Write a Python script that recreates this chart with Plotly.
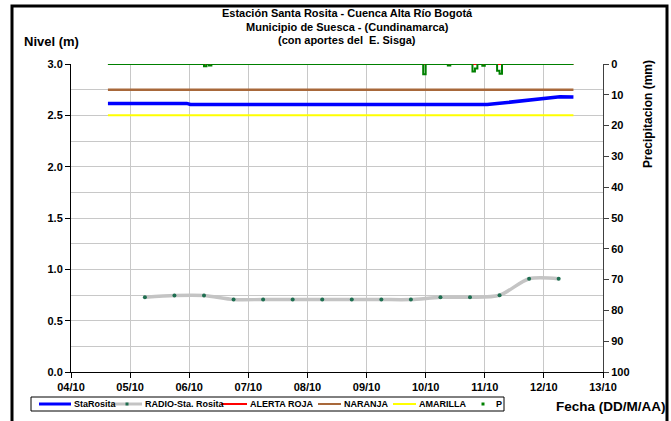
import pandas as pd
import plotly.graph_objects as go

# ---------------- data ----------------
tick_labels = ["04/10", "05/10", "06/10", "07/10", "08/10", "09/10", "10/10", "11/10", "12/10", "13/10"]

sta_times = ["2010-10-04 15:00", "2010-10-05 23:00", "2010-10-06 00:30", "2010-10-11 01:00",
             "2010-10-11 05:00", "2010-10-11 10:00", "2010-10-11 17:00", "2010-10-12 01:00",
             "2010-10-12 06:30", "2010-10-12 12:00"]
sta_values = [2.616, 2.616, 2.606, 2.606, 2.615, 2.628, 2.650, 2.674, 2.680, 2.678]

radio_times = ["2010-10-05 06:00", "2010-10-05 18:00", "2010-10-06 06:00", "2010-10-06 18:00",
               "2010-10-07 06:00", "2010-10-07 18:00", "2010-10-08 06:00", "2010-10-08 18:00",
               "2010-10-09 06:00", "2010-10-09 18:00", "2010-10-10 06:00", "2010-10-10 18:00",
               "2010-10-11 06:00", "2010-10-11 18:00", "2010-10-12 06:00"]
radio_values = [0.728, 0.745, 0.745, 0.706, 0.706, 0.706, 0.706, 0.706,
                0.706, 0.706, 0.728, 0.728, 0.748, 0.908, 0.908]

threshold_times = ["2010-10-04 15:00", "2010-10-12 12:00"]
alerta_roja = [3.0, 3.0]
naranja = [2.75, 2.75]
amarilla = [2.5, 2.5]

# precipitation (mm), hourly record; only hours with rain listed, other hours read as 0
p_start, p_end = "2010-10-04 15:00", "2010-10-12 12:00"
p_event_times = ["2010-10-06 06:00", "2010-10-06 08:00", "2010-10-09 23:00", "2010-10-10 09:00",
                 "2010-10-10 19:00", "2010-10-10 20:00", "2010-10-10 23:00",
                 "2010-10-11 05:00", "2010-10-11 06:00"]
p_event_values = [0.7, 0.5, 3.3, 0.5, 2.4, 1.5, 0.6, 2.2, 3.2]

# ---------------- build ----------------
p_index = pd.date_range(p_start, p_end, freq="h")
p_series = pd.Series(0.0, index=p_index)
for t, v in zip(p_event_times, p_event_values):
    p_series[pd.Timestamp(t)] = v

FONT = "Liberation Sans, Arial, sans-serif"
C_BLUE, C_GRAY, C_MARK = "#0000FF", "#C4C4C4", "#1E6E50"
C_RED, C_BROWN, C_YELLOW, C_GREEN = "#FF0000", "#A8683A", "#FFFF00", "#008000"

fig = go.Figure()
fig.add_trace(go.Scatter(x=sta_times, y=sta_values, name="StaRosita", mode="lines",
                         line=dict(color=C_BLUE, width=3.5)))
fig.add_trace(go.Scatter(x=radio_times, y=radio_values, name="RADIO-Sta. Rosita", mode="lines+markers",
                         line=dict(color=C_GRAY, width=3.5, shape="spline", smoothing=0.8),
                         marker=dict(color=C_MARK, size=4)))
fig.add_trace(go.Scatter(x=threshold_times, y=alerta_roja, name="ALERTA ROJA", mode="lines",
                         line=dict(color=C_RED, width=2)))
fig.add_trace(go.Scatter(x=threshold_times, y=naranja, name="NARANJA", mode="lines",
                         line=dict(color=C_BROWN, width=2.5)))
fig.add_trace(go.Scatter(x=threshold_times, y=amarilla, name="AMARILLA", mode="lines",
                         line=dict(color=C_YELLOW, width=2)))
fig.add_trace(go.Scatter(x=p_series.index, y=p_series.values, name="P", mode="lines",
                         yaxis="y2", line=dict(color=C_GREEN, width=2, shape="hv")))

px0, px1 = 71, 603
py_top, py_bot = 64, 372
W, H = 671, 421
pw, ph = px1 - px0, py_bot - py_top

def xp(px):
    return (px - px0) / pw

def yp(py):
    return (py_bot - py) / ph

fig.update_layout(
    width=W, height=H,
    margin=dict(l=px0, r=W - px1, t=py_top, b=H - py_bot, autoexpand=False),
    paper_bgcolor="white", plot_bgcolor="white",
    font=dict(family=FONT, size=11, color="black", weight="bold"),
    showlegend=False,
    xaxis=dict(type="date", range=["2010-10-04", "2010-10-13"],
               tickvals=pd.date_range("2010-10-04", "2010-10-13", freq="D"),
               ticktext=tick_labels,
               showgrid=True, gridcolor="#C8C8C8", gridwidth=1,
               showline=True, linecolor="black", linewidth=1,
               ticks="outside", ticklen=5, tickcolor="black",
               tickfont=dict(size=11, family=FONT, weight="bold"), zeroline=False),
    yaxis=dict(range=[0, 3], dtick=0.5, tickformat=".1f",
               showgrid=True, gridcolor="#C8C8C8", gridwidth=1,
               minor=dict(dtick=0.25, showgrid=True, gridcolor="#C8C8C8", gridwidth=1),
               showline=True, linecolor="black", linewidth=1,
               ticks="outside", ticklen=5, tickcolor="black",
               tickfont=dict(size=11, family=FONT, weight="bold"), zeroline=False),
    yaxis2=dict(range=[100, 0], dtick=10, overlaying="y", side="right",
                showgrid=False, zeroline=False,
                showline=True, linecolor="#404040", linewidth=1,
                ticks="outside", ticklen=5, tickcolor="#404040",
                tickfont=dict(size=11, family=FONT, weight="bold")),
)

def ann(px, py, text, size, xanchor="center", angle=0):
    fig.add_annotation(x=xp(px), y=yp(py), xref="paper", yref="paper", showarrow=False,
                       text=text, textangle=angle,
                       font=dict(size=size, family=FONT, color="black", weight="bold"),
                       xanchor=xanchor, yanchor="middle")

# titles
ann(347, 13, "Estación Santa Rosita - Cuenca Alta Río Bogotá", 11)
ann(347, 27, "Municipio de Suesca - (Cundinamarca)", 11)
ann(347, 40, "(con aportes del  E. Sisga)", 11)
ann(51, 41, "Nivel (m)", 13)
ann(648, 114, "Precipitacion (mm)", 12, angle=-90)
ann(611, 407, "Fecha (DD/M/AA)", 13.5)

# legend (drawn by hand to match the reference layout)
fig.add_shape(type="rect", xref="paper", yref="paper",
              x0=xp(31), x1=xp(504), y0=yp(411), y1=yp(397),
              line=dict(color="black", width=1), fillcolor="white", layer="above")
leg_y = 404
legend_items = [
    ("StaRosita", C_BLUE, 3, 39, 71),
    ("RADIO-Sta. Rosita", C_GRAY, 3, 111, 142),
    ("ALERTA ROJA", C_RED, 2, 221, 247),
    ("NARANJA", C_BROWN, 2, 318, 341),
    ("AMARILLA", C_YELLOW, 2, 393, 416),
]
for name, col, wd, a, b in legend_items:
    fig.add_shape(type="line", xref="paper", yref="paper",
                  x0=xp(a), x1=xp(b), y0=yp(leg_y), y1=yp(leg_y),
                  line=dict(color=col, width=wd), layer="above")
    ann(b + 1, leg_y, name, 9, xanchor="left")
# marker dots for RADIO and P
for cx, col in [(127, C_MARK), (483, C_GREEN)]:
    fig.add_shape(type="rect", xref="paper", yref="paper",
                  x0=xp(cx - 1.5), x1=xp(cx + 1.5), y0=yp(leg_y + 1.5), y1=yp(leg_y - 1.5),
                  line=dict(width=0), fillcolor=col, layer="above")
ann(494, leg_y, "P", 9, xanchor="left")

# outer chart frame
fig.add_shape(type="rect", xref="paper", yref="paper",
              x0=xp(12), x1=xp(667), y0=yp(430), y1=yp(6),
              line=dict(color="black", width=3), fillcolor="rgba(0,0,0,0)", layer="above")

fig.write_html("out.html", config={"displayModeBar": False},
               post_script="document.body.style.margin='0';document.body.style.overflow='hidden';")
